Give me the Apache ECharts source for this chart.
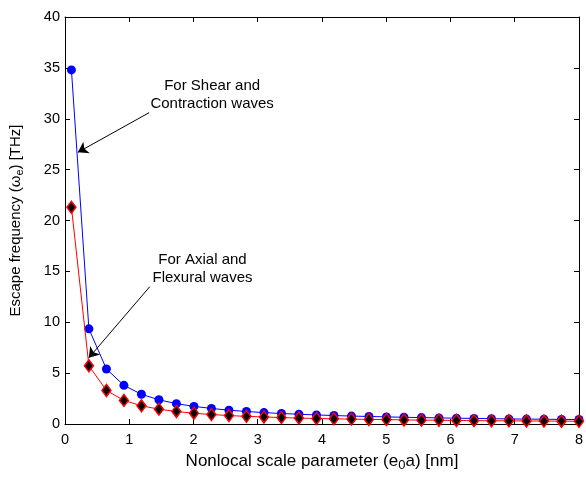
<!DOCTYPE html>
<html><head><meta charset="utf-8">
<script src="https://cdn.jsdelivr.net/npm/echarts@6/dist/echarts.min.js"></script>
<style>html,body{margin:0;padding:0;background:#fff}#c{width:586px;height:477px}</style>
</head><body><div id="c"></div>
<script>
const xValues = [0.1, 0.372, 0.645, 0.917, 1.19, 1.462, 1.734, 2.007, 2.279, 2.552, 2.824, 3.097, 3.369, 3.641, 3.914, 4.186, 4.459, 4.731, 5.003, 5.276, 5.548, 5.821, 6.093, 6.366, 6.638, 6.91, 7.183, 7.455, 7.728, 8.0];
const shearContraction = [34.8, 9.35, 5.4, 3.8, 2.92, 2.38, 2.0, 1.73, 1.53, 1.36, 1.23, 1.12, 1.03, 0.96, 0.89, 0.83, 0.78, 0.74, 0.70, 0.66, 0.63, 0.60, 0.57, 0.55, 0.52, 0.50, 0.48, 0.47, 0.45, 0.44];
const axialFlexural = [21.3, 5.72, 3.3, 2.32, 1.79, 1.46, 1.23, 1.06, 0.93, 0.83, 0.75, 0.69, 0.63, 0.58, 0.54, 0.51, 0.48, 0.45, 0.43, 0.40, 0.38, 0.37, 0.35, 0.33, 0.32, 0.31, 0.30, 0.29, 0.28, 0.27];
const xTicks = [0, 1, 2, 3, 4, 5, 6, 7, 8];
const yTicks = [0, 5, 10, 15, 20, 25, 30, 35, 40];
const shearLabel = 'For Shear and\nContraction waves';
const axialLabel = 'For Axial and\nFlexural waves';
const shearArrow = [[1.31, 30.6], [0.2, 26.7]];
const axialArrow = [[1.32, 13.5], [0.37, 6.5]];
const shearLabelPos = [2.29, 32.3];
const axialLabelPos = [2.14, 15.2];

const FONT = '"Liberation Sans", Arial, Helvetica, sans-serif';
const pairs = (xs, ys) => xs.map((x, i) => [x, ys[i]]);
const axisCommon = () => ({
  type: 'value',
  axisLine: { show: true, onZero: false, lineStyle: { color: '#000', width: 1 } },
  axisTick: { show: true, inside: true, length: 5, lineStyle: { color: '#000' } },
  splitLine: { show: false },
});
const chart = echarts.init(document.getElementById('c'), null, { renderer: 'canvas' });
chart.setOption({
  animation: false,
  backgroundColor: '#fff',
  grid: { left: 65, top: 17, width: 520, height: 410, containLabel: false },
  xAxis: [
    Object.assign(axisCommon(), {
      min: xTicks[0], max: xTicks[xTicks.length - 1], interval: 1, position: 'bottom',
      axisLabel: { color: '#000', fontSize: 14.5, fontFamily: FONT, margin: 8 },
      name: 'Nonlocal scale parameter (e{sub|0}a) [nm]',
      nameLocation: 'middle', nameGap: 26,
      nameTextStyle: { color: '#000', fontSize: 17, fontFamily: FONT,
        rich: { sub: { fontSize: 13, fontFamily: FONT, color: '#000', verticalAlign: 'bottom', padding: [9, 0, 0, 0] } } }
    }),
    Object.assign(axisCommon(), {
      min: xTicks[0], max: xTicks[xTicks.length - 1], interval: 1, position: 'top',
      axisLabel: { show: false }
    })
  ],
  yAxis: [
    Object.assign(axisCommon(), {
      min: yTicks[0], max: yTicks[yTicks.length - 1], interval: 5, position: 'left',
      axisLabel: { color: '#000', fontSize: 14.5, fontFamily: FONT, margin: 5 },
      name: 'Escape frequency (ω{sub|e}) [THz]',
      nameLocation: 'middle', nameGap: 40, nameRotate: 90,
      nameTextStyle: { color: '#000', fontSize: 15, fontFamily: FONT,
        rich: { sub: { fontSize: 11, fontFamily: FONT, color: '#000', verticalAlign: 'bottom', padding: [7, 0, 0, 0] } } }
    }),
    Object.assign(axisCommon(), {
      min: yTicks[0], max: yTicks[yTicks.length - 1], interval: 5, position: 'right',
      axisLabel: { show: false }
    })
  ],
  series: [
    {
      type: 'line', name: 'Shear and Contraction', xAxisIndex: 0, yAxisIndex: 0,
      data: pairs(xValues, shearContraction),
      lineStyle: { color: '#0000ff', width: 1 },
      symbol: 'circle', symbolSize: 9,
      itemStyle: { color: '#0000ff', borderColor: '#0000ff', borderWidth: 0 },
      z: 2,
      markLine: {
        silent: true, animation: false,
        symbol: ['none', 'arrow'], symbolSize: 10,
        lineStyle: { color: '#000', width: 1, type: 'solid' },
        itemStyle: { color: '#000' },
        label: { show: false },
        data: [
          [{ coord: shearArrow[0] }, { coord: shearArrow[1] }],
          [{ coord: axialArrow[0] }, { coord: axialArrow[1] }]
        ]
      },
      markPoint: {
        silent: true, animation: false, symbol: 'circle', symbolSize: 0,
        itemStyle: { color: 'transparent' },
        label: { show: true, position: 'inside', color: '#000', fontSize: 15, fontFamily: FONT, lineHeight: 18, align: 'center' },
        data: [
          { coord: shearLabelPos, value: shearLabel, label: { formatter: shearLabel } },
          { coord: axialLabelPos, value: axialLabel, label: { formatter: axialLabel } }
        ]
      }
    },
    {
      type: 'line', name: 'Axial and Flexural', xAxisIndex: 0, yAxisIndex: 0,
      data: pairs(xValues, axialFlexural),
      lineStyle: { color: '#ff0000', width: 1 },
      symbol: 'diamond', symbolSize: [9, 12],
      itemStyle: { color: '#000', borderColor: '#ff0000', borderWidth: 1.5 },
      z: 3
    }
  ]
});
</script></body></html>
